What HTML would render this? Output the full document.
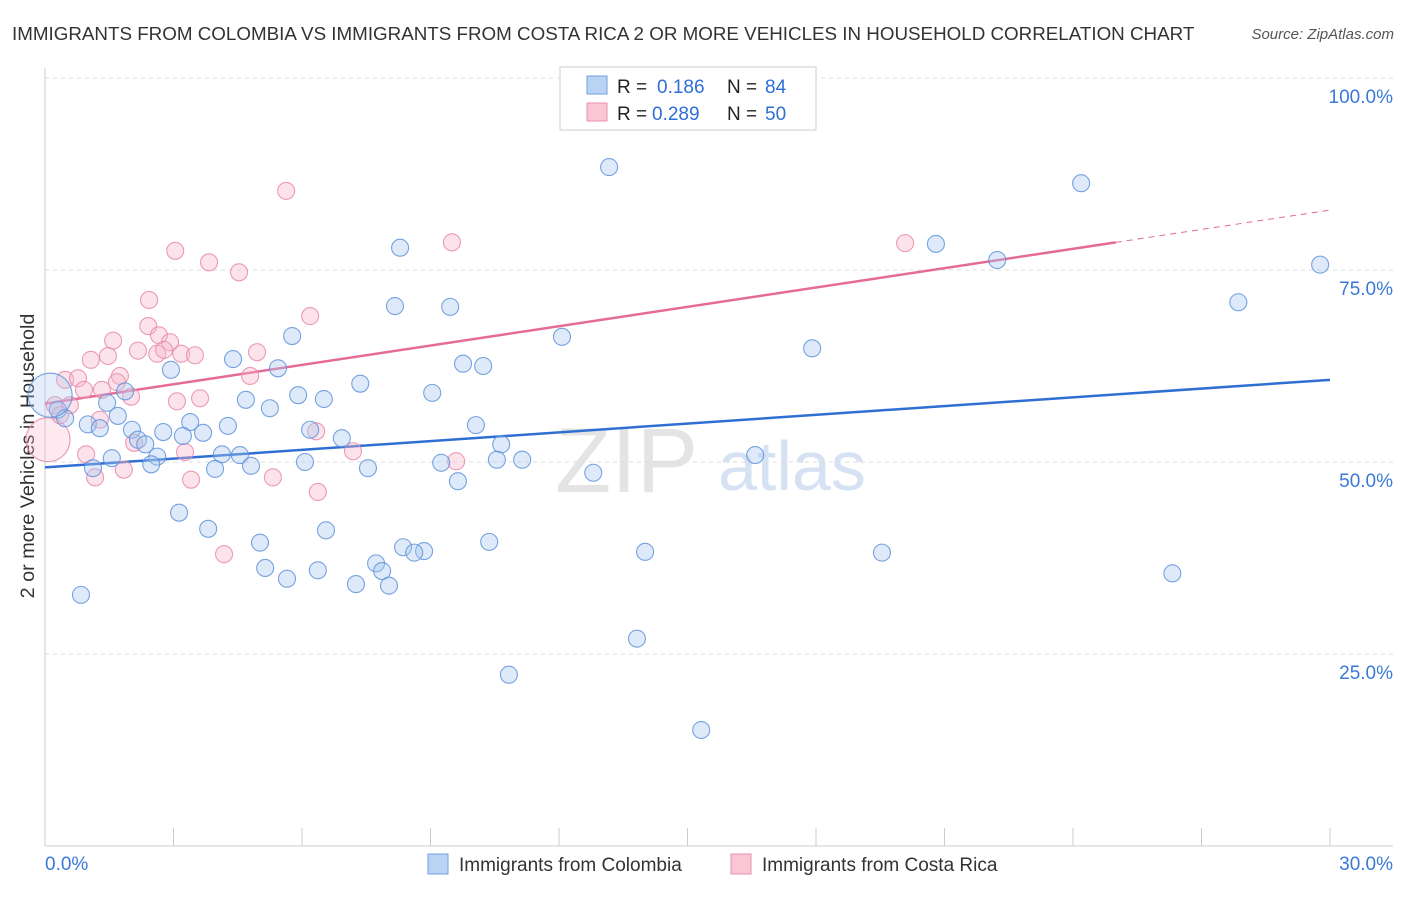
<!DOCTYPE html>
<html><head><meta charset="utf-8"><style>
body{margin:0;background:#fff;font-family:"Liberation Sans",sans-serif;}
svg text{font-family:"Liberation Sans",sans-serif;}
</style></head><body>
<svg id="chart" width="1406" height="892" xmlns="http://www.w3.org/2000/svg">
<text x="12" y="40" font-size="18.8" fill="#333">IMMIGRANTS FROM COLOMBIA VS IMMIGRANTS FROM COSTA RICA 2 OR MORE VEHICLES IN HOUSEHOLD CORRELATION CHART</text>
<text x="1394" y="39" font-size="15" fill="#555" text-anchor="end" font-style="italic">Source: ZipAtlas.com</text>
<text transform="translate(34,456) rotate(-90)" font-size="19.8" fill="#333" text-anchor="middle">2 or more Vehicles in Household</text>
<g><text x="555" y="492" font-size="92" fill="#e4e4e4" font-family="Liberation Serif">ZIP</text><text x="718" y="490" font-size="70" fill="#d6e2f3">atlas</text></g>
<g id="grid"></g><g id="axes"></g><g id="trend"></g><g id="pts"></g>
<g>
<rect x="560" y="67" width="256" height="63" fill="#fff" stroke="#ccc"/>
<rect x="587" y="76" width="20" height="18" fill="#b8d3f3" stroke="#6f9fe0"/>
<rect x="587" y="103" width="20" height="18" fill="#f9c6d6" stroke="#ec92ad"/>
<text x="617" y="93" font-size="19" fill="#222">R = </text><text x="657" y="93" font-size="19" fill="#2e6fd6">0.186</text>
<text x="727" y="93" font-size="19" fill="#222">N = </text><text x="765" y="93" font-size="19" fill="#2e6fd6">84</text>
<text x="617" y="120" font-size="19" fill="#222">R = </text><text x="652" y="120" font-size="19" fill="#2e6fd6">0.289</text>
<text x="727" y="120" font-size="19" fill="#222">N = </text><text x="765" y="120" font-size="19" fill="#2e6fd6">50</text>
</g>
<g>
<rect x="428" y="854" width="20" height="20" fill="#b8d3f3" stroke="#6f9fe0"/>
<text x="459" y="871" font-size="19" fill="#333">Immigrants from Colombia</text>
<rect x="731" y="854" width="20" height="20" fill="#f9c6d6" stroke="#ec92ad"/>
<text x="762" y="871" font-size="19" fill="#333">Immigrants from Costa Rica</text>
</g>
</svg>
<script>
const xTicksLabels=["0.0%","30.0%"];
const yTickValues=[25,50,75,100];
const blueX=[13.17,24.19,20.80,22.23,29.77,27.86,8.29,8.17,9.46,12.07,17.91,5.77,4.39,5.44,2.94,9.76,10.23,7.36,9.04,5.91,4.69,6.51,5.25,1.87,1.45,1.70,0.30,0.47,1.00,1.28,3.39,2.03,2.76,3.22,3.69,4.27,2.17,2.34,10.06,6.19,6.93,10.65,16.58,1.56,2.62,2.48,4.13,4.55,4.81,3.97,6.07,7.54,9.25,10.55,11.14,1.12,9.64,12.80,3.13,3.81,6.56,5.02,8.36,8.85,8.62,10.37,14.01,19.54,7.73,5.14,6.37,7.87,5.65,7.26,8.03,26.32,0.84,13.82,10.83,15.32,0.12];
const blueY=[88.4,86.3,78.4,76.3,75.7,70.8,77.9,70.3,70.2,66.3,64.8,66.4,63.4,62.2,62.0,62.8,62.5,60.2,59.0,58.7,58.1,58.2,57.0,59.2,57.7,56.0,56.8,55.7,54.9,54.4,55.2,54.2,53.9,53.4,53.8,54.7,52.9,52.3,54.8,54.2,53.1,52.3,50.9,50.5,50.7,49.7,51.0,50.9,49.5,49.1,50.0,49.2,49.9,50.3,50.3,49.2,47.5,48.6,43.4,41.3,41.1,39.5,38.9,38.4,38.2,39.6,38.3,38.2,36.8,36.2,35.9,35.8,34.8,34.1,33.9,35.5,32.7,27.0,22.3,15.1,58.7];
const pinkX=[5.63,9.50,20.08,3.04,3.83,4.53,2.43,6.19,2.41,2.66,1.59,2.92,4.95,2.17,2.62,2.78,3.18,3.50,1.07,1.47,0.47,0.77,1.75,4.79,1.33,0.91,1.68,2.01,3.08,3.62,0.23,0.58,1.28,6.33,2.08,3.27,7.19,0.96,9.60,1.84,1.17,3.41,5.32,6.37,4.18,0.07,0.35];
const pinkY=[85.3,78.6,78.5,77.5,76.0,74.7,71.1,69.0,67.7,66.5,65.8,65.6,64.3,64.5,64.1,64.6,64.1,63.9,63.3,63.8,60.7,60.9,61.2,61.2,59.4,59.4,60.4,58.5,57.9,58.3,57.4,57.4,55.5,54.0,52.5,51.3,51.4,51.0,50.1,49.0,48.0,47.7,48.0,46.1,38.0,52.9,56.1];
const blueTrend=[49.3,60.7];
const pinkTrend=[57.6,82.8];
const pinkSolidEnd=25;
const NS="http://www.w3.org/2000/svg";
const X=v=>45+v/30*1285, Y=v=>846-v/100*768;
function mk(tag,attrs,parent){const e=document.createElementNS(NS,tag);for(const k in attrs)e.setAttribute(k,attrs[k]);parent.appendChild(e);return e;}
const grid=document.getElementById('grid'),axes=document.getElementById('axes'),trend=document.getElementById('trend'),pts=document.getElementById('pts');
yTickValues.forEach(v=>{
 const l=mk('line',{x1:45,x2:1393,y1:Y(v),y2:Y(v),stroke:'#ddd','stroke-dasharray':'4,4'},grid);
 
 
 const t=mk('text',{x:1393,y:Y(v)+25,'font-size':19,fill:'#3b78d8','text-anchor':'end'},grid);
 t.textContent=v.toFixed(1)+'%';
 
 
});
mk('line',{x1:45,x2:45,y1:68,y2:846,stroke:'#ccc'},axes);
mk('line',{x1:45,x2:1393,y1:846,y2:846,stroke:'#ccc'},axes);
for(let i=1;i<=10;i++){const tk=mk('line',{x1:X(i*3),x2:X(i*3),y1:828,y2:846,stroke:'#ccc'},axes);
 
 }
const xl0=mk('text',{x:45,y:870,'font-size':19,fill:'#3b78d8'},axes);xl0.textContent=xTicksLabels[0];


const xl1=mk('text',{x:1393,y:870,'font-size':19,fill:'#3b78d8','text-anchor':'end'},axes);xl1.textContent=xTicksLabels[1];


function pt(x,y,big,fill,stroke,name){const c=mk('circle',{cx:X(x),cy:Y(y),r:big?22:8.5,fill:fill,'fill-opacity':big?0.3:0.38,stroke:stroke,'stroke-width':1.1,'stroke-opacity':0.85},pts);
 
 }
pinkX.forEach((x,i)=>pt(x,pinkY[i],i===45,'#f7b6ca','#e98aa8','point-costarica'));
blueX.forEach((x,i)=>pt(x,blueY[i],i===80,'#a9c8f0','#5f93da','point-colombia'));
const bt=mk('line',{x1:X(0),y1:Y(blueTrend[0]),x2:X(30),y2:Y(blueTrend[1]),stroke:'#2f6fd3','stroke-width':2.5},trend);


const py=x=>pinkTrend[0]+(pinkTrend[1]-pinkTrend[0])*x/30;
const ps=mk('line',{x1:X(0),y1:Y(py(0)),x2:X(pinkSolidEnd),y2:Y(py(pinkSolidEnd)),stroke:'#e56b95','stroke-width':2.5},trend);


const pd=mk('line',{x1:X(pinkSolidEnd),y1:Y(py(pinkSolidEnd)),x2:X(30),y2:Y(py(30)),stroke:'#e56b95','stroke-width':1,'stroke-dasharray':'6,5'},trend);


</script>
</body></html>
